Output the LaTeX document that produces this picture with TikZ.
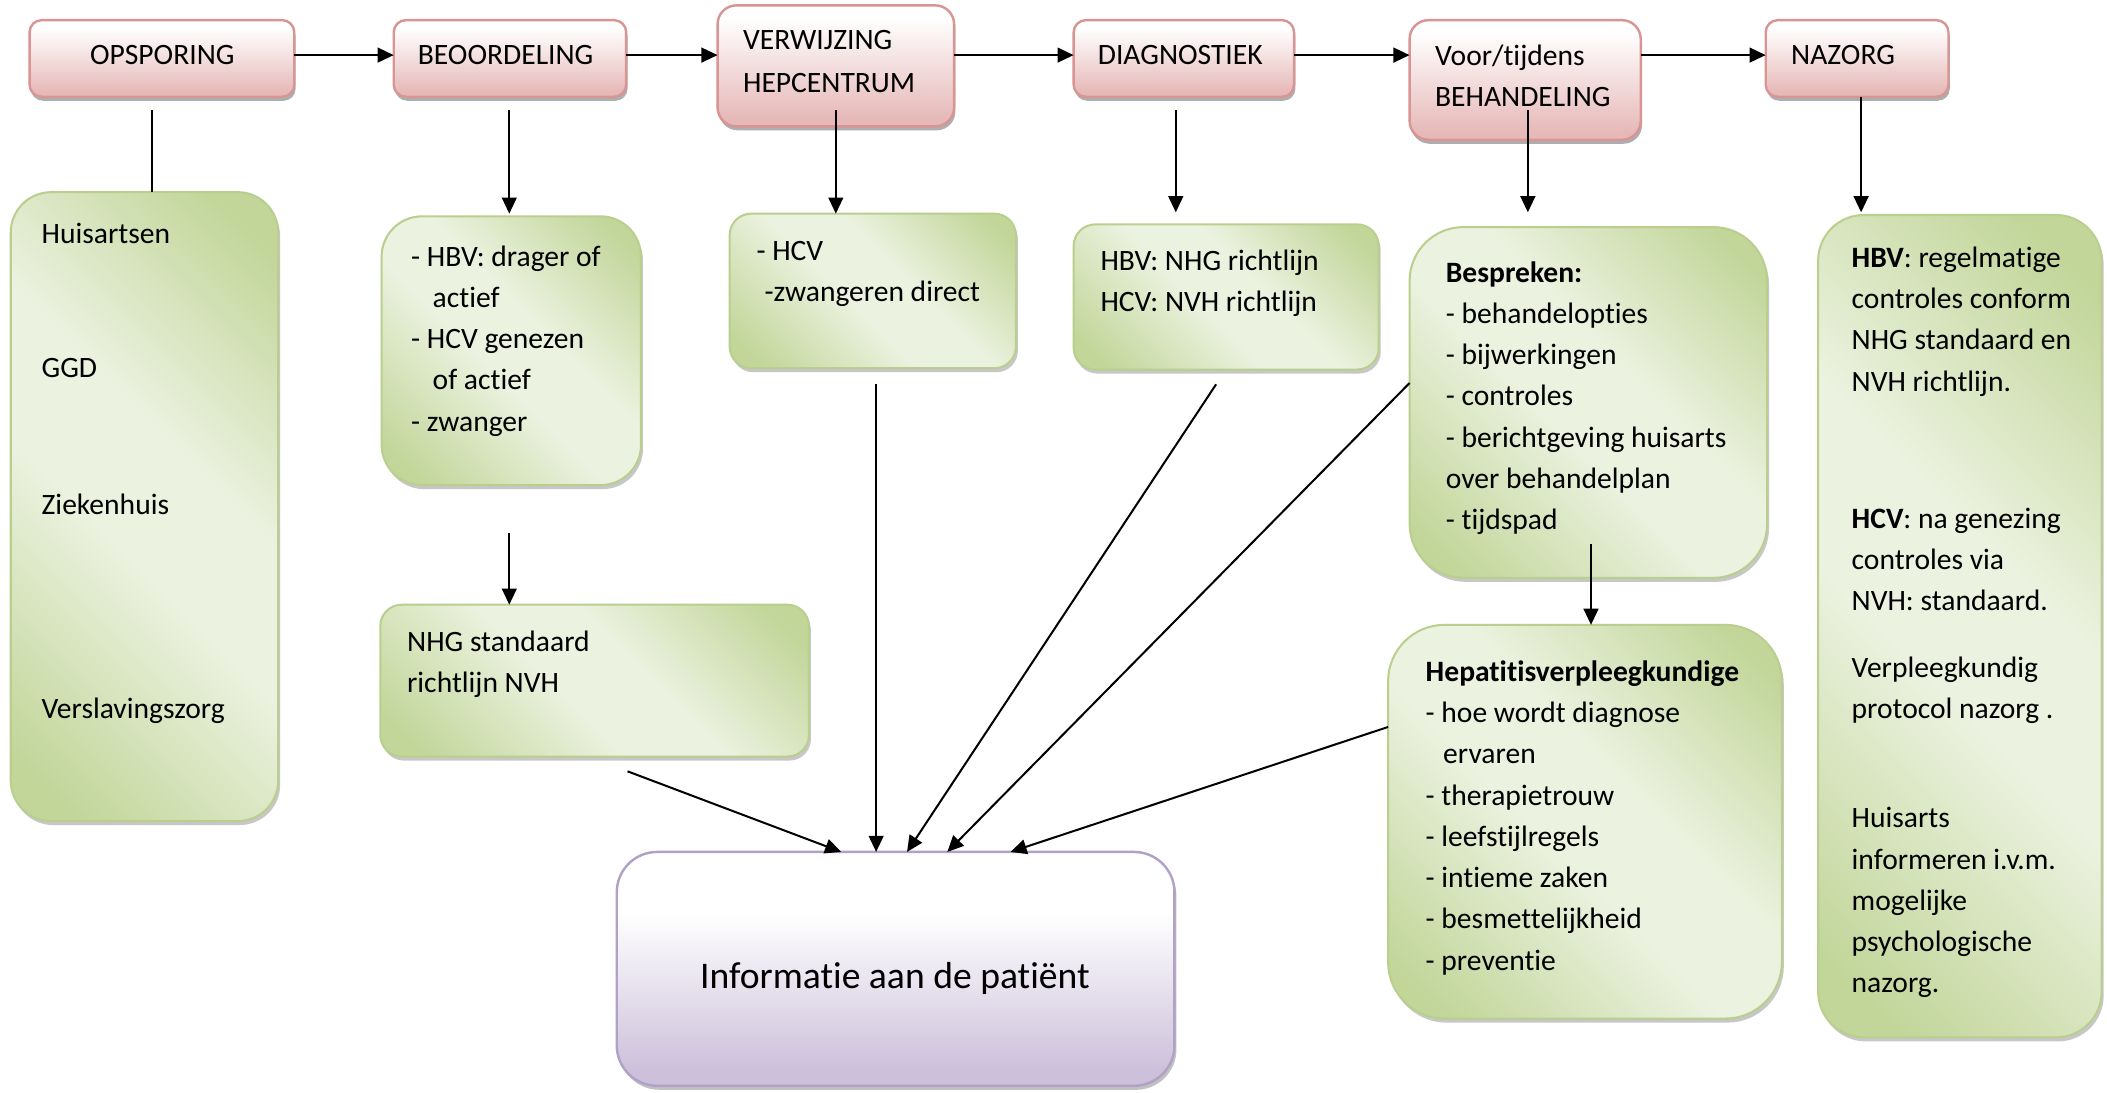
\documentclass[tikz,border=0pt]{standalone}
\usepackage{fontspec}
\setmainfont{Carlito}[Ligatures={NoCommon,NoContextual}]
\usetikzlibrary{arrows.meta,shadows}
\definecolor{pinkB}{RGB}{230,185,184}
\definecolor{pinkD}{RGB}{217,149,148}
\definecolor{gD}{RGB}{194,214,154}
\definecolor{gL}{RGB}{236,242,224}
\definecolor{gBorder}{RGB}{186,206,142}
\definecolor{pB}{RGB}{204,192,218}
\definecolor{pD}{RGB}{178,161,199}
\pgfdeclarehorizontalshading{greenshade}{100bp}{color(0bp)=(gD); color(20bp)=(gD); color(45bp)=(gL); color(57bp)=(gL); color(80bp)=(gD); color(100bp)=(gD)}
\pgfdeclareverticalshading{pinkshade}{100bp}{color(0bp)=(pinkB); color(28bp)=(pinkB); color(70bp)=(white); color(100bp)=(white)}
\pgfdeclareverticalshading{purpshade}{100bp}{color(0bp)=(pB); color(28bp)=(pB); color(62bp)=(white); color(100bp)=(white)}
\newcommand{\mystrut}{\rule{0pt}{17pt}}
\begin{document}
\begin{tikzpicture}[x=1pt,y=-1pt,
  every node/.style={inner sep=0pt,outer sep=0pt},
  pinkbox/.style={draw=pinkD,line width=1.8pt,shade,shading=pinkshade,rounded corners=9pt,anchor=north west,
    drop shadow={shadow xshift=1pt,shadow yshift=-3pt,fill=black!45,opacity=0.7}},
  greenbox/.style={draw=gBorder,line width=1.5pt,shade,shading=greenshade,shading angle=45,anchor=north west,
    drop shadow={shadow xshift=1.5pt,shadow yshift=-3pt,fill=black!40,opacity=0.55}},
  purpbox/.style={draw=pD,line width=1.8pt,shade,shading=purpshade,rounded corners=30pt,anchor=north west,
    drop shadow={shadow xshift=1.5pt,shadow yshift=-3pt,fill=black!40,opacity=0.6}},
  txt/.style={anchor=north west,align=left,font=\fontsize{22}{30.7}\selectfont},
  ltxt/.style={anchor=base west,font=\fontsize{22}{30.7}\selectfont},
  ln/.style={line width=1.5pt,draw=black},
  arr/.style={ln,-{Triangle[length=12pt,width=11pt]}}]
\fill[white] (0,0) rectangle (1568,813);
\useasboundingbox (0,0) rectangle (1568,813);

% top row
\node[pinkbox,minimum width=197pt,minimum height=57pt] (ops) at (22,15) {};
\node[pinkbox,minimum width=173pt,minimum height=57pt] (beo) at (293,15) {};
\node[pinkbox,minimum width=176pt,minimum height=90pt,rounded corners=14pt] (verw) at (534,4) {};
\node[pinkbox,minimum width=164pt,minimum height=57pt] (diag) at (799,15) {};
\node[pinkbox,minimum width=172pt,minimum height=89pt,rounded corners=14pt] (beh) at (1049,15) {};
\node[pinkbox,minimum width=136pt,minimum height=57pt] (naz) at (1314,15) {};

\node[ltxt] (tops) at (67,48) {OPSPORING};
\node[ltxt] (tbeo) at (311,48) {BEOORDELING};
\node[txt,font=\fontsize{22}{31.5}\selectfont] (tverw) at (553,20) {\mystrut VERWIJZING\\HEPCENTRUM};
\node[ltxt] (tdiag) at (817,48) {DIAGNOSTIEK};
\node[txt,font=\fontsize{22}{30}\selectfont] (tbeh) at (1068,32) {\mystrut Voor/tijdens\\BEHANDELING};
\node[ltxt] (tnaz) at (1333,48) {NAZORG};

% green boxes
\node[greenbox,rounded corners=30pt,minimum width=199pt,minimum height=468pt] (colA) at (8,143) {};
\node[greenbox,rounded corners=30pt,minimum width=193pt,minimum height=200pt] (beoS) at (284,161) {};
\node[greenbox,rounded corners=16pt,minimum width=319pt,minimum height=113pt] (nhg) at (283,450) {};
\node[greenbox,rounded corners=16pt,minimum width=213pt,minimum height=115pt] (verwS) at (543,159) {};
\node[greenbox,rounded corners=16pt,minimum width=227pt,minimum height=108pt] (diagS) at (799,167) {};
\node[greenbox,rounded corners=40pt,minimum width=266pt,minimum height=261pt] (besp) at (1049,169) {};
\node[greenbox,rounded corners=42pt,minimum width=293pt,minimum height=293pt] (hep) at (1033,465) {};
\node[greenbox,rounded corners=34pt,minimum width=211pt,minimum height=612pt] (nazS) at (1353,160) {};

\node[purpbox,minimum width=415pt,minimum height=174pt] (info) at (459,634) {};
\node[font=\fontsize{28}{34}\selectfont] (tinfo) at (666,728) {Informatie aan de patiënt};

% texts in green boxes
\node[ltxt] (a1) at (31,181) {Huisartsen};
\node[ltxt] (a2) at (31,281) {GGD};
\node[ltxt] (a3) at (31,383) {Ziekenhuis};
\node[ltxt] (a4) at (31,535) {Verslavingszorg};

\node[txt] (tbeoS) at (306,181) {\mystrut - HBV: drager of\\\hspace*{16pt}actief\\- HCV genezen\\\hspace*{16pt}of actief\\- zwanger};
\node[txt] (tnhg) at (303,468) {\mystrut NHG standaard\\richtlijn NVH};
\node[txt] (tverwS) at (563,177) {\mystrut - HCV\\\hspace*{6pt}-zwangeren direct};
\node[txt] (tdiagS) at (819,184) {\mystrut HBV: NHG richtlijn\\HCV: NVH richtlijn};
\node[txt] (tbesp) at (1076,193) {\mystrut\textbf{Bespreken:}\\- behandelopties\\- bijwerkingen\\- controles\\- berichtgeving huisarts\\over behandelplan\\- tijdspad};
\node[txt] (thep) at (1061,490) {\mystrut\textbf{Hepatitisverpleegkundige}\\- hoe wordt diagnose\\\hspace*{13pt}ervaren\\- therapietrouw\\- leefstijlregels\\- intieme zaken\\- besmettelijkheid\\- preventie};
\node[txt] (nz1) at (1378,182) {\mystrut\textbf{HBV}: regelmatige\\controles conform\\NHG standaard en\\NVH richtlijn.};
\node[txt] (nz2) at (1378,376) {\mystrut\textbf{HCV}: na genezing\\controles via\\NVH: standaard.};
\node[txt] (nz3) at (1378,487) {\mystrut Verpleegkundig\\protocol nazorg .};
\node[txt] (nz4) at (1378,599) {\mystrut Huisarts\\informeren i.v.m.\\mogelijke\\psychologische\\nazorg.};

% horizontal flow
\draw[arr] ([yshift=2.5pt]ops.east) -- ([yshift=2.5pt]beo.west);
\draw[arr] ([yshift=2.5pt]beo.east) -- ([yshift=2.5pt]beo.east -| verw.west);
\draw[arr] ([yshift=2.5pt]diag.west -| verw.east) -- ([yshift=2.5pt]diag.west);
\draw[arr] ([yshift=2.5pt]diag.east) -- ([yshift=2.5pt]diag.east -| beh.west);
\draw[arr] ([yshift=2.5pt]naz.west -| beh.east) -- ([yshift=2.5pt]naz.west);

% vertical connectors
\coordinate (s1) at (113,82);
\coordinate (s2) at (379,82);  \coordinate (e2) at (379,159);
\coordinate (s3) at (622,82);  \coordinate (e3) at (622,159);
\coordinate (s4) at (875,82);  \coordinate (e4) at (875,158);
\coordinate (s5) at (1137,82); \coordinate (e5) at (1137,158);
\coordinate (s6) at (1385,72); \coordinate (e6) at (1385,158);
\coordinate (s7) at (379,397);
\coordinate (s8) at (1184,405);
\draw[ln] (s1) -- (s1 |- colA.north);
\draw[arr] (s2) -- (e2);
\draw[arr] (s3) -- (e3);
\draw[arr] (s4) -- (e4);
\draw[arr] (s5) -- (e5);
\draw[arr] (s6) -- (e6);
\draw[arr] (s7) -- (s7 |- nhg.north);
\draw[arr] (s8) -- (s8 |- hep.north);

% arrows into info box
\coordinate (q1) at (467,574);
\coordinate (q2) at (652,286);
\coordinate (q3) at (905,286);
\coordinate (q4) at (1049,285);
\coordinate (q5) at (1033,541);
\coordinate (p1) at ([xshift=167pt]info.north west);
\coordinate (p2) at ([xshift=193pt]info.north west);
\coordinate (p3) at ([xshift=216pt]info.north west);
\coordinate (p4) at ([xshift=246pt]info.north west);
\coordinate (p5) at ([xshift=293pt]info.north west);
\draw[arr] (q1) -- (p1);
\draw[arr] (q2) -- (p2);
\draw[arr] (q3) -- (p3);
\draw[arr] (q4) -- (p4);
\draw[arr] (q5) -- (p5);
\end{tikzpicture}
\end{document}
